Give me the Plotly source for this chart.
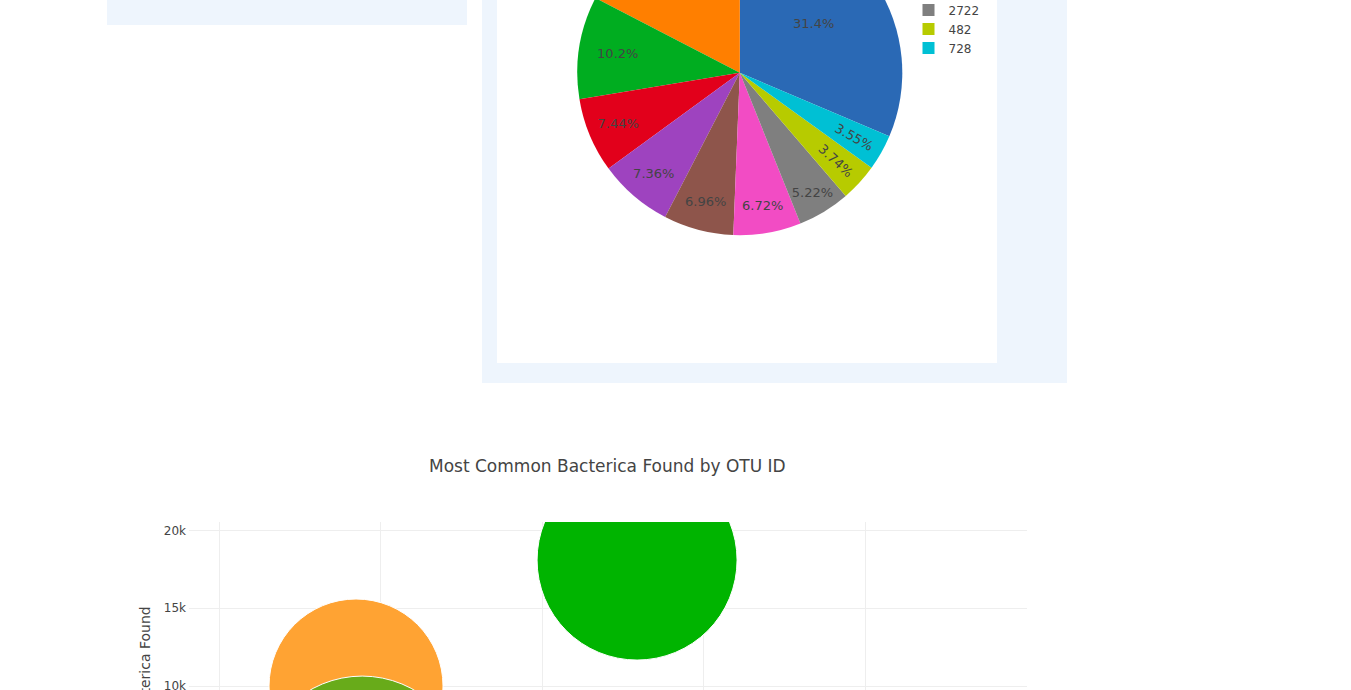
import plotly.graph_objects as go

# ---------------- data ----------------
pie_labels = ["1167", "2859", "2264", "41", "1189", "352", "189", "2722", "482", "728"]
pie_values = [31.4, 17.4, 10.2, 7.44, 7.36, 6.96, 6.72, 5.22, 3.74, 3.55]
pie_colors = ["#2a69b5", "#ff7f00", "#00ad20", "#e2001b", "#9e43bf",
              "#8e554b", "#f24cc4", "#7f7f7f", "#b7cb00", "#00c0d4"]

bubble_otu_ids = [924, 1794, 943]
bubble_counts = [10000, 18100, 3950]
bubble_abundance = [87, 100, 104]
bubble_colors = ["#ffa333", "#00b400", "#68ab1a"]

y_tick_vals = [10000, 15000, 20000]
y_tick_text = ["10k", "15k", "20k"]

# ---------------- page geometry (pixels) ----------------
W = 1351
SHIFT = 200            # part of the page scrolled above the window
H = 690 + SHIFT


def px(x):
    return x / W


def py(y_screen):
    return 1 - (y_screen + SHIFT) / H


fig = go.Figure()

fig.add_trace(go.Pie(
    labels=pie_labels,
    values=pie_values,
    marker=dict(colors=pie_colors),
    textinfo="percent",
    textposition="inside",
    textfont=dict(color="#444", size=13, family="DejaVu Sans"),
    domain=dict(x=[px(577.3), px(902.3)], y=[py(235.2), py(-89.8)]),
    sort=True,
    direction="counterclockwise",
    showlegend=True,
    hoverinfo="label+percent",
))

fig.add_trace(go.Scatter(
    x=bubble_otu_ids,
    y=bubble_counts,
    mode="markers",
    marker=dict(size=bubble_abundance, sizemode="diameter", sizeref=0.5,
                color=bubble_colors, opacity=1,
                line=dict(color="white", width=1)),
    showlegend=False,
    xaxis="x", yaxis="y",
))

box_color = "#eef5fd"
shapes = [
    dict(type="rect", xref="paper", yref="paper", layer="below",
         x0=px(107), x1=px(467), y0=py(25), y1=py(-190),
         fillcolor=box_color, line=dict(width=0)),
    dict(type="rect", xref="paper", yref="paper", layer="below",
         x0=px(482), x1=px(1067), y0=py(383), y1=py(-190),
         fillcolor=box_color, line=dict(width=0)),
    dict(type="rect", xref="paper", yref="paper", layer="below",
         x0=px(497), x1=px(997), y0=py(363), y1=py(-170),
         fillcolor="white", line=dict(width=0)),
]

annotations = [
    dict(text="Most Common Bacterica Found by OTU ID", xref="paper", yref="paper",
         x=px(607), y=py(466), xanchor="center", yanchor="middle", showarrow=False,
         font=dict(size=17, color="#444", family="DejaVu Sans")),
    dict(text="Number of Bacterica Found", xref="paper", yref="paper",
         x=px(145), y=py(604), xanchor="center", yanchor="top", showarrow=False,
         textangle=-90,
         font=dict(size=14, color="#444", family="DejaVu Sans")),
]

fig.update_layout(
    template="none",
    width=W, height=H, autosize=False,
    margin=dict(l=0, r=0, t=0, b=0, pad=0),
    paper_bgcolor="white", plot_bgcolor="white",
    font=dict(family="DejaVu Sans", size=12, color="#444"),
    showlegend=True,
    legend=dict(x=px(908.5), y=py(-137.5), xanchor="left", yanchor="top",
                bgcolor="rgba(0,0,0,0)", font=dict(size=12, color="#444")),
    shapes=shapes,
    annotations=annotations,
    xaxis=dict(domain=[px(189), px(1027)], range=[407, 3001], tick0=0, dtick=500,
               showgrid=True, gridcolor="#eee", gridwidth=1, zeroline=False,
               showline=False, ticks="", showticklabels=False,
               automargin=False, anchor="y"),
    yaxis=dict(domain=[0, py(522)], range=[9743, 20547], tickvals=y_tick_vals,
               ticktext=y_tick_text, ticklabeloverflow="allow", ticklabelstandoff=2,
               showgrid=True, gridcolor="#eee", gridwidth=1, zeroline=False,
               showline=False, ticks="", automargin=False, anchor="x"),
)

post = ("var gd=document.getElementById('{plot_id}');"
        "gd.style.marginTop='-%dpx';"
        "document.body.style.margin='0';"
        "document.body.style.overflow='hidden';"
        "document.documentElement.style.overflow='hidden';" % SHIFT)

fig.write_html("out.html", post_script=post)
